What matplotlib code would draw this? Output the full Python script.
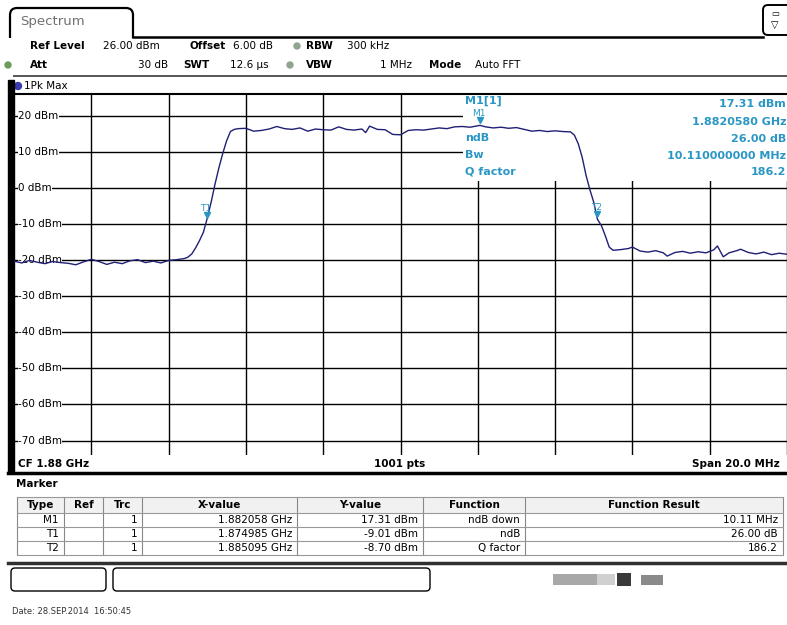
import numpy as np
import matplotlib
matplotlib.use('Agg')
import matplotlib.pyplot as plt
from matplotlib.patches import Rectangle, FancyBboxPatch, Circle
import matplotlib.transforms as mtransforms

# trace, frequency as offset from 1.870 GHz in MHz, level in dBm
freq_mhz = [0.0, 0.2, 0.4, 0.6, 0.8, 1.0, 1.2, 1.4, 1.6, 1.8, 2.0, 2.2, 2.4, 2.6, 2.8,
            3.0, 3.2, 3.4, 3.6, 3.8, 4.0, 4.2, 4.4,
            4.5, 4.6, 4.7, 4.8, 4.9, 4.985, 5.1, 5.2, 5.3, 5.4, 5.5, 5.6, 5.7,
            5.8, 6.0, 6.2, 6.4, 6.6, 6.8, 7.0, 7.2, 7.4, 7.6, 7.8, 8.0, 8.2, 8.4,
            8.6, 8.8, 9.0, 9.1, 9.2, 9.4, 9.6, 9.8, 10.0, 10.2, 10.4, 10.6, 10.8,
            11.0, 11.2, 11.4, 11.6, 11.8, 12.058, 12.2, 12.4, 12.6, 12.8, 13.0,
            13.2, 13.4, 13.6, 13.8, 14.0, 14.2, 14.4,
            14.5, 14.6, 14.7, 14.8, 14.9, 15.0, 15.095, 15.2, 15.3, 15.4, 15.5,
            15.7, 15.9, 16.0, 16.2, 16.4, 16.6, 16.8, 16.9, 17.1, 17.3, 17.5,
            17.7, 17.9, 18.1, 18.2, 18.35, 18.5, 18.7, 18.8, 19.0, 19.2, 19.4,
            19.6, 19.8, 20.0]
level_dbm = [-20.3, -20.8, -20.1, -20.6, -21.0, -20.4, -20.7, -20.9, -21.3, -20.5, -19.8,
             -20.4, -21.2, -20.6, -21.0, -20.2, -19.9, -20.7, -20.3, -20.8, -20.1, -19.9, -19.6,
             -19.2, -18.3, -16.6, -14.6, -12.3, -9.01, -4.0, 1.0, 5.5, 9.5, 13.0, 15.6, 16.2,
             16.4, 16.5, 15.7, 15.9, 16.3, 17.0, 16.4, 16.2, 16.6, 15.7, 16.3, 16.1, 16.0, 16.9,
             16.2, 16.0, 16.3, 15.3, 17.1, 16.2, 16.1, 14.8, 14.7, 15.9, 16.1, 16.0, 16.3,
             16.6, 16.4, 16.9, 17.0, 16.8, 17.31, 16.9, 16.6, 16.8, 16.5, 16.7,
             16.2, 15.7, 15.9, 15.6, 15.8, 15.6, 15.5,
             14.6, 12.2, 8.5, 3.5, -0.5, -4.0, -8.70, -10.5, -13.3, -16.4, -17.3,
             -17.1, -16.8, -16.4, -17.5, -17.8, -17.4, -18.0, -18.9, -17.9, -17.6, -18.1,
             -17.7, -18.0, -17.2, -16.1, -19.1, -18.0, -17.4, -17.0, -17.9, -18.3, -17.8,
             -18.5, -18.1, -18.4]

marker_names = ['M1', 'T1', 'T2']
marker_freq = [12.058, 4.985, 15.095]
marker_level = [17.31, -9.01, -8.70]

y_ticks = [20, 10, 0, -10, -20, -30, -40, -50, -60, -70]
y_labels = ['20 dBm', '10 dBm', '0 dBm', '-10 dBm', '-20 dBm', '-30 dBm',
            '-40 dBm', '-50 dBm', '-60 dBm', '-70 dBm']

info_left = ['M1[1]', 'ndB', 'Bw', 'Q factor']
info_right = ['17.31 dBm', '1.8820580 GHz', '26.00 dB', '10.110000000 MHz', '186.2']

table_head = ['Type', 'Ref', 'Trc', 'X-value', 'Y-value', 'Function', 'Function Result']
table_rows = [['M1', '', '1', '1.882058 GHz', '17.31 dBm', 'ndB down', '10.11 MHz'],
              ['T1', '', '1', '1.874985 GHz', '-9.01 dBm', 'ndB', '26.00 dB'],
              ['T2', '', '1', '1.885095 GHz', '-8.70 dBm', 'Q factor', '186.2']]

W, H = 787, 625
teal = '#2a96c4'
trace_col = '#1f1f75'

fig = plt.figure(figsize=(W / 100, H / 100), dpi=100)
fig.patch.set_facecolor('white')

# overlay in pixel coords for the instrument frame
ov = fig.add_axes([0, 0, 1, 1])
ov.set_xlim(0, W)
ov.set_ylim(H, 0)
ov.axis('off')

# tab "Spectrum"
ov.add_patch(FancyBboxPatch((10, 8), 123, 45, boxstyle='round,pad=0,rounding_size=7',
                            fc='white', ec='black', lw=1.6))
ov.add_patch(Rectangle((8, 38), 128, 20, fc='white', ec='none'))
ov.plot([133, 763], [37, 37], color='black', lw=1.8)
ov.add_patch(FancyBboxPatch((763, 5), 30, 30, boxstyle='round,pad=0,rounding_size=5',
                            fc='white', ec='black', lw=1.4))
ov.text(771, 14, '▭', fontsize=6, ha='left', va='center')
ov.text(771, 25, '▽', fontsize=7, ha='left', va='center')
ov.text(20, 22, 'Spectrum', fontsize=9.5, color='#707070', va='center')

# header lines
hdr = [(30, 46, 'Ref Level', 'bold', 'left'), (103, 46, '26.00 dBm', 'normal', 'left'),
       (190, 46, 'Offset', 'bold', 'left'), (233, 46, '6.00 dB', 'normal', 'left'),
       (306, 46, 'RBW', 'bold', 'left'), (347, 46, '300 kHz', 'normal', 'left'),
       (30, 65, 'Att', 'bold', 'left'), (168, 65, '30 dB', 'normal', 'right'),
       (183, 65, 'SWT', 'bold', 'left'), (230, 65, '12.6 µs', 'normal', 'left'),
       (306, 65, 'VBW', 'bold', 'left'), (412, 65, '1 MHz', 'normal', 'right'),
       (429, 65, 'Mode', 'bold', 'left'), (475, 65, 'Auto FFT', 'normal', 'left')]
for x, y, s, w, ha in hdr:
    ov.text(x, y, s, fontsize=7.5, fontweight=w, ha=ha, va='center')
for x, y, c in [(297, 46, '#8fa48f'), (290, 65, '#8fa48f'), (8, 65, '#6c9c5c')]:
    ov.add_patch(Circle((x, y), 3, color=c))
ov.plot([14, W], [76, 76], color='#555555', lw=1.4)
ov.add_patch(Circle((18, 86), 3.5, color='#3b3bb0'))
ov.text(24, 86, '1Pk Max', fontsize=7.5, va='center')

# left black band
ov.add_patch(Rectangle((8, 80), 6, 392, color='black'))

# main trace axes
ax = fig.add_axes([14 / W, 1 - 455 / H, 773 / W, 361 / H])
ax.set_xlim(0, 20)
ax.set_ylim(-74, 26)
ax.set_xticks(np.arange(0, 21, 2))
ax.set_yticks(y_ticks)
ax.grid(color='black', lw=1)
ax.tick_params(length=0, labelbottom=False, labelleft=False)
for sp in ['left', 'right', 'bottom']:
    ax.spines[sp].set_visible(False)
ax.spines['top'].set_linewidth(1.5)

blend = mtransforms.blended_transform_factory(ov.transData, ax.transData)
for v, s in zip(y_ticks, y_labels):
    ax.text(18, v, s, transform=blend, fontsize=7.5, va='center', ha='left', zorder=2,
            bbox=dict(fc='white', ec='none', pad=0.3))

# marker info area
ax.add_patch(Rectangle((463, 95), 330, 86, transform=ov.transData, fc='white', ec='none',
                       zorder=2))
ax.plot(freq_mhz, level_dbm, color=trace_col, lw=1, zorder=3)

up = mtransforms.offset_copy(ax.transData, fig=fig, x=0, y=5, units='dots')
for n, f, l in zip(marker_names, marker_freq, marker_level):
    ax.plot(f, l, marker='v', ms=5, color=teal, transform=up, zorder=4)
    ax.annotate(n, (f, l), xytext=(-1, 12), textcoords='offset pixels', ha='center',
                va='center', color=teal, fontsize=6.5, zorder=4)

for i, s in enumerate(info_left):
    ax.text(465, [101, 138, 155, 172][i], s, transform=ov.transData, color=teal,
            fontsize=8, fontweight='bold', ha='left', va='center', zorder=4)
for i, s in enumerate(info_right):
    ax.text(786, [104, 122, 139, 156, 172][i], s, transform=ov.transData, color=teal,
            fontsize=8, fontweight='bold', ha='right', va='center', zorder=4)

# bottom bar
ov.text(18, 464, 'CF 1.88 GHz', fontsize=7.5, fontweight='bold', va='center')
ov.text(400, 464, '1001 pts', fontsize=7.5, fontweight='bold', va='center', ha='center')
ov.text(780, 464, 'Span 20.0 MHz', fontsize=7.5, fontweight='bold', va='center', ha='right')
ov.plot([8, W], [473, 473], color='black', lw=2.5)

# marker table
ov.text(16, 484, 'Marker', fontsize=7.5, fontweight='bold', va='center')
cols = [17, 64, 103, 142, 297, 423, 525, 783]
top, hh, rh = 497, 16, 14
ov.add_patch(Rectangle((cols[0], top), cols[-1] - cols[0], hh, fc='#f1f1f1', ec='none'))
for i, s in enumerate(table_head):
    ov.text((cols[i] + cols[i + 1]) / 2, top + hh / 2, s, fontsize=7.5, fontweight='bold',
            ha='center', va='center')
bot = top + hh + rh * len(table_rows)
for x in cols:
    ov.plot([x, x], [top, bot], color='#888888', lw=0.8)
for k in range(len(table_rows) + 1):
    yy = top + hh + rh * k
    ov.plot([cols[0], cols[-1]], [yy, yy], color='#999999', lw=0.8)
ov.plot([cols[0], cols[-1]], [top, top], color='#999999', lw=0.8)
for r, row in enumerate(table_rows):
    yy = top + hh + rh * r + rh / 2
    for i, s in enumerate(row):
        ov.text(cols[i + 1] - 5, yy, s, fontsize=7.5, ha='right', va='center')
ov.plot([8, W], [563, 563], color='#303030', lw=2.5)

# lower boxes and icons
ov.add_patch(FancyBboxPatch((11, 568), 95, 23, boxstyle='round,pad=0,rounding_size=4',
                            fc='white', ec='black', lw=1))
ov.add_patch(FancyBboxPatch((113, 568), 317, 23, boxstyle='round,pad=0,rounding_size=4',
                            fc='white', ec='black', lw=1))
ov.add_patch(Rectangle((553, 574), 44, 11, fc='#a8a8a8', ec='none'))
ov.add_patch(Rectangle((597, 574), 18, 11, fc='#d0d0d0', ec='none'))
ov.add_patch(Rectangle((617, 573), 14, 13, fc='#3a3a3a', ec='none'))
ov.add_patch(Rectangle((641, 575), 22, 10, fc='#8a8a8a', ec='none'))

ov.text(12, 612, 'Date: 28.SEP.2014  16:50:45', fontsize=6, color='#333333', va='center')

fig.savefig('out.png', dpi=100)
